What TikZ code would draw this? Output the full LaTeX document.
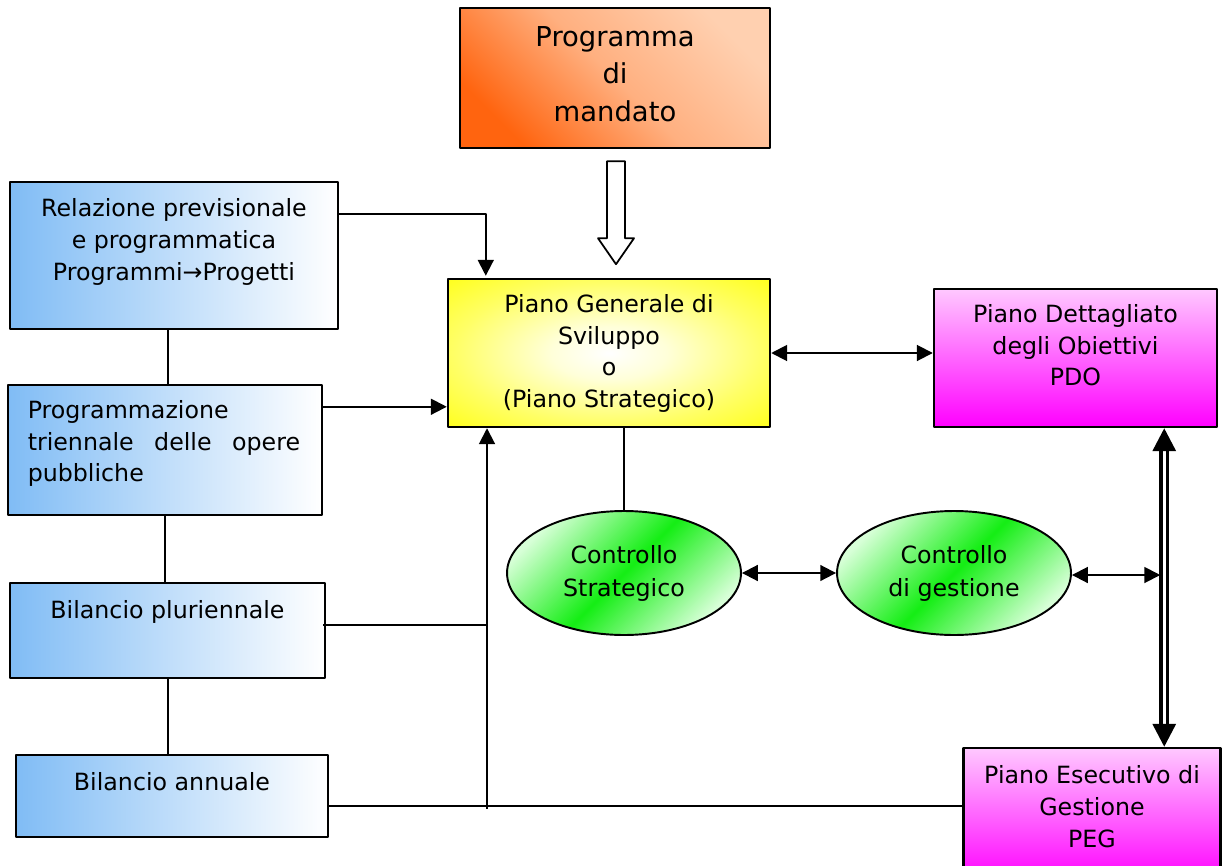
\documentclass[tikz,border=0pt]{standalone}
\usepackage{fontspec}
\setmainfont{DejaVu Sans}
\usetikzlibrary{arrows.meta,shapes.geometric,calc}
\definecolor{celeste}{RGB}{128,188,245}
\definecolor{pesca}{RGB}{255,208,176}
\definecolor{arancio}{RGB}{255,100,15}
\definecolor{rosa}{RGB}{255,200,255}
\definecolor{verde}{RGB}{20,238,20}
\definecolor{verdino}{RGB}{215,255,215}
\pgfdeclareradialshading{giallo}{\pgfpoint{0bp}{0bp}}{color(0bp)=(white); color(9bp)=(white!85!yellow); color(24bp)=(yellow!60!white); color(40bp)=(yellow); color(50bp)=(yellow)}
\begin{document}
\begin{tikzpicture}[x=0.02cm, y=-0.02cm, line join=round, line width=1.1pt,
		box/.style={draw, line width=1.4pt, inner sep=0pt},
		azzurro/.style={box, left color=celeste, right color=white},
		viola/.style={box, top color=rosa, bottom color=magenta},
		ctrl/.style={ellipse, draw, line width=1.1pt, inner sep=0pt, minimum width=4.68cm, minimum height=2.48cm, left color=verdino, right color=verdino, middle color=verde, shading angle=45, font=\fontsize{13.5}{18.8}\selectfont, align=center},
		txt/.style={font=\fontsize{13.5}{18}\selectfont, align=center, inner sep=0pt},
		freccia/.style={-{Triangle[length=9pt,width=9pt]}},
		doppia/.style={{Triangle[length=9pt,width=9pt]}-{Triangle[length=9pt,width=9pt]}}]
	\useasboundingbox (0,0) rectangle (1223,865);
	\def\s{0.02cm}
	\node[box, left color=arancio, right color=pesca, middle color=pesca!70!arancio, shading angle=135, minimum width=310*\s, minimum height=140*\s,
		label={[txt, font=\fontsize{15.6}{21.3}\selectfont, anchor=north, yshift=-10.5pt]north:{Programma\\di\\mandato}}] (prog) at (615,78) {};
	\node[azzurro, minimum width=328*\s, minimum height=147*\s,
		label={[txt, anchor=north, yshift=-9.7pt]north:{Relazione previsionale\\e programmatica\\Programmi→Progetti}}] (rel) at (174,255.5) {};
	\node[azzurro, minimum width=314*\s, minimum height=130*\s,
		label={[txt, align=left, text width=155pt, anchor=north west, xshift=11.4pt, yshift=-9pt]north west:{Programmazione\\\makebox[155pt][l]{triennale\hfill delle\hfill opere}\\pubbliche}}] (ptop) at (165,450) {};
	\node[azzurro, minimum width=315*\s, minimum height=95*\s,
		label={[txt, anchor=north, yshift=-10.3pt]north:Bilancio pluriennale}] (bplur) at (167.5,630.5) {};
	\node[azzurro, minimum width=312*\s, minimum height=82*\s,
		label={[txt, anchor=north, yshift=-10.3pt]north:Bilancio annuale}] (bann) at (172,796) {};
	\node[box, shade, shading=giallo, minimum width=322*\s, minimum height=148*\s,
		label={[txt, anchor=north, yshift=-9pt]north:{Piano Generale di\\Sviluppo\\o\\(Piano Strategico)}}] (pgs) at (609,353) {};
	\node[viola, minimum width=283*\s, minimum height=138*\s,
		label={[txt, anchor=north, yshift=-9.1pt]north:{Piano Dettagliato\\degli Obiettivi\\PDO}}] (pdo) at (1075.5,358) {};
	\node[viola, minimum width=257*\s, minimum height=134*\s,
		label={[txt, anchor=north, yshift=-10.3pt]north:{Piano Esecutivo di\\Gestione\\PEG}}] (peg) at (1092,815) {};
	\node[ctrl] (cs) at (624,573) {Controllo\\Strategico};
	\node[ctrl] (cg) at (954,573) {Controllo\\di gestione};
	% frecce
	\coordinate (cima) at ($(prog.south)+(1,12)$);
	\draw[line width=1pt, fill=white] (cima) ++(-9,0) -- ++(0,77) -- ++(-9,0) -- ($(cima)+(0,103)$) -- ++(18,-26) -- ++(-9,0) -- ++(0,-77) -- cycle;
	\draw[freccia] ($(rel.north east)+(0,33)$) -| ($(pgs.north west)+(39,-2)$);
	\draw[freccia] ($(ptop.north east)+(0,23)$) coordinate (p2) -- (pgs.west |- p2);
	\coordinate (piede) at (487,809);
	\draw[freccia] (piede) -- (piede |- pgs.south);
	\draw ($(bplur.east)+(-3,-5.5)$) coordinate (p3) -- (p3 -| piede);
	\draw ($(bann.east)+(0,10)$) coordinate (p4) -- (p4 -| peg.west);
	\draw ($(rel.south)+(-6,0)$) coordinate (p5) -- (p5 |- ptop.north);
	\draw (ptop.south) -- (ptop.south |- bplur.north);
	\draw ($(bplur.south)+(0.5,0)$) coordinate (p7) -- (p7 |- bann.north);
	\draw (cs.north) -- (cs.north |- pgs.south);
	\draw[doppia] (pgs.east) -- (pgs.east -| pdo.west);
	\draw[doppia] (cs) -- (cg);
	\coordinate (asse) at ($(pdo.south east)+(-54,0)$);
	\draw[{Triangle[length=13pt,width=13pt]}-{Triangle[length=13pt,width=13pt]}, double, double distance=1.9pt, line width=1.9pt] (asse) -- (asse |- peg.north);
	\draw[doppia] ($(cg.east)+(0,2)$) coordinate (p6) -- ($(asse |- p6)+(-4,0)$);
\end{tikzpicture}
\end{document}
